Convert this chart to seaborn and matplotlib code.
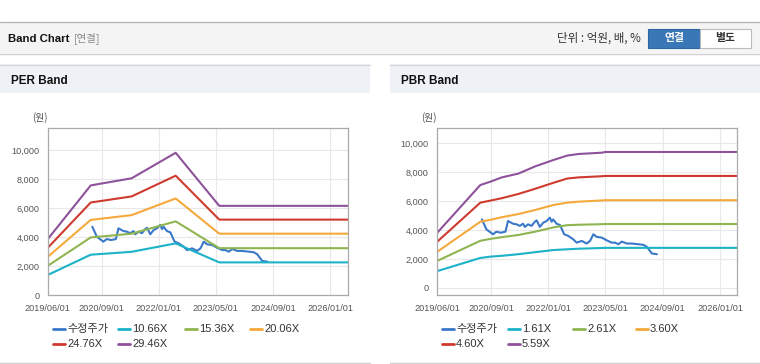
import pandas as pd
import matplotlib
matplotlib.use('Agg')
import matplotlib.pyplot as plt
import matplotlib.dates as mdates
from matplotlib.patches import Rectangle
from matplotlib.lines import Line2D
from matplotlib.ticker import FuncFormatter
import seaborn as sns

# adjusted close price (shared by both panels)
price_dates = ['2020-06-15', '2020-07-23', '2020-09-17', '2020-10-16', '2020-11-22', '2021-01-01',
               '2021-01-23', '2021-03-07', '2021-04-05', '2021-05-03', '2021-05-31', '2021-06-15',
               '2021-07-13', '2021-08-11', '2021-09-08', '2021-09-23', '2021-10-21', '2021-11-18',
               '2021-12-17', '2022-01-14', '2022-01-29', '2022-02-11', '2022-03-12', '2022-04-10',
               '2022-05-16', '2022-06-19', '2022-08-01', '2022-08-30', '2022-10-12', '2022-11-23',
               '2022-12-22', '2023-01-19', '2023-02-17', '2023-03-31', '2023-05-13', '2023-06-25',
               '2023-07-23', '2023-08-20', '2023-09-18', '2023-10-31', '2023-12-12', '2024-02-07',
               '2024-03-20', '2024-04-18', '2024-05-31', '2024-07-13']
price = [4730, 4040, 3700, 3880, 3810, 3880,
         4620, 4430, 4390, 4280, 4430, 4210,
         4390, 4280, 4570, 4660, 4210, 4500,
         4620, 4850, 4570, 4730, 4430, 4340,
         3700, 3590, 3350, 3120, 3240, 3060,
         3240, 3700, 3520, 3470, 3280, 3120,
         3120, 3010, 3190, 3060, 3060, 3010,
         2970, 2830, 2370, 2320]

per_dates = ['2019-06-01', '2020-06-01', '2021-05-15', '2022-05-25', '2023-05-31', '2026-06-01']
per_1066 = [1400, 2800, 3000, 3580, 2270, 2270]
per_1536 = [2030, 3990, 4250, 5100, 3250, 3250]
per_2006 = [2650, 5200, 5530, 6680, 4250, 4250]
per_2476 = [3270, 6400, 6820, 8250, 5220, 5220]
per_2946 = [3870, 7580, 8070, 9830, 6170, 6170]
per_labels = ['10.66X', '15.36X', '20.06X', '24.76X', '29.46X']

pbr_dates = ['2019-06-01', '2020-06-01', '2020-08-25', '2020-12-01', '2021-04-20', '2021-09-10',
             '2022-02-15', '2022-06-10', '2022-09-15', '2023-04-01', '2023-05-01', '2026-06-01']
pbr_161 = [1150, 2060, 2150, 2210, 2320, 2460, 2610, 2660, 2700, 2750, 2760, 2760]
pbr_261 = [1860, 3250, 3380, 3500, 3650, 3880, 4180, 4330, 4360, 4400, 4410, 4410]
pbr_360 = [2490, 4570, 4700, 4880, 5100, 5380, 5730, 5890, 5960, 6040, 6060, 6060]
pbr_460 = [3190, 5890, 6030, 6200, 6490, 6850, 7270, 7560, 7640, 7720, 7740, 7740]
pbr_559 = [3810, 7110, 7340, 7640, 7900, 8400, 8850, 9150, 9260, 9350, 9400, 9400]
pbr_labels = ['1.61X', '2.61X', '3.60X', '4.60X', '5.59X']

price_label = '수정주가'
x_ticks = ['2019-06-01', '2020-09-01', '2022-01-01', '2023-05-01', '2024-09-01', '2026-01-01']
colors = ['#3a78c9', '#1cb2c8', '#8fb550', '#f5a93c', '#cf3a2f', '#8e529b']

W, H = 760, 364
sns.set_style('white')
plt.rcParams['font.family'] = ['Liberation Sans', 'Noto Sans CJK KR', 'DejaVu Sans']
KR = ['Noto Sans CJK KR', 'DejaVu Sans']


def build(dates, bands, labels):
    parts = [pd.DataFrame({'date': pd.to_datetime(price_dates), 'value': price, 'series': price_label})]
    for lab, vals in zip(labels, bands):
        parts.append(pd.DataFrame({'date': pd.to_datetime(dates), 'value': vals, 'series': lab}))
    return pd.concat(parts, ignore_index=True)


def fx(px):
    return px / W


def fy(py):
    return 1 - py / H


fig = plt.figure(figsize=(W / 100, H / 100), dpi=100)

# top header bar
fig.patches.append(Rectangle((0, fy(53)), 1, 31 / H, transform=fig.transFigure,
                             facecolor='#f4f4f4', edgecolor='none', zorder=0))
fig.add_artist(Line2D([0, 1], [fy(22), fy(22)], transform=fig.transFigure, color='#b8b8b8', lw=1))
fig.add_artist(Line2D([0, 1], [fy(53.5), fy(53.5)], transform=fig.transFigure, color='#d0d0d0', lw=1))
fig.text(fx(8), fy(38.5), 'Band Chart', fontsize=8.2, fontweight='bold', color='#111111', va='center')
fig.text(fx(74), fy(38.5), '[연결]', fontsize=7.5, color='#888888', va='center', family=KR)
fig.text(fx(641), fy(38.5), '단위 : 억원, 배, %', fontsize=8.3, color='#333333', va='center', ha='right',
         family=KR)
fig.patches.append(Rectangle((fx(648), fy(47.5)), 52 / W, 18.5 / H, transform=fig.transFigure,
                             facecolor='#3977b7', edgecolor='#2e66a3', lw=0.8, zorder=1))
fig.patches.append(Rectangle((fx(700), fy(47.5)), 50.5 / W, 18.5 / H, transform=fig.transFigure,
                             facecolor='#ffffff', edgecolor='#bbbbbb', lw=0.8, zorder=1))
fig.text(fx(674), fy(38.5), '연결', fontsize=7.8, color='white', fontweight='bold', va='center', ha='center',
         family=KR)
fig.text(fx(725), fy(38.5), '별도', fontsize=7.8, color='#333333', fontweight='bold', va='center',
         ha='center', family=KR)

panels = [
    dict(x0=0, x1=370, title='PER Band', ax_left=47.7, ylim=(0, 11540), dates=per_dates,
         bands=[per_1066, per_1536, per_2006, per_2476, per_2946], labels=per_labels,
         leg_x=[53, 118, 185, 250]),
    dict(x0=390, x1=760, title='PBR Band', ax_left=437.3, ylim=(-526, 11060), dates=pbr_dates,
         bands=[pbr_161, pbr_261, pbr_360, pbr_460, pbr_559], labels=pbr_labels,
         leg_x=[442, 508, 573, 636]),
]

for p in panels:
    # panel header
    fig.patches.append(Rectangle((fx(p['x0']), fy(93)), (p['x1'] - p['x0']) / W, 29 / H,
                                 transform=fig.transFigure, facecolor='#eef2f7', edgecolor='none', zorder=0))
    fig.add_artist(Line2D([fx(p['x0']), fx(p['x1'])], [fy(64.5)] * 2, transform=fig.transFigure,
                          color='#d6d6d6', lw=1))
    fig.add_artist(Line2D([fx(p['x0']), fx(p['x1'])], [fy(363)] * 2, transform=fig.transFigure,
                          color='#d0d0d0', lw=1))
    fig.text(fx(p['x0'] + 11), fy(80.5), p['title'], fontsize=8.5, fontweight='bold', color='#111111',
             va='center')
    fig.text(fx(p['ax_left'] - 16), fy(118), '(원)', fontsize=7, color='#555555', va='center', family=KR)

    ax = fig.add_axes([fx(p['ax_left']), fy(295.3), 300 / W, 167.3 / H])
    df = build(p['dates'], p['bands'], p['labels'])
    sns.lineplot(data=df, x='date', y='value', hue='series', hue_order=[price_label] + p['labels'],
                 palette=colors, legend=False, ax=ax, linewidth=1.5, estimator=None)
    ax.set_xlim(pd.Timestamp('2019-06-01'), pd.Timestamp('2026-05-28'))
    ax.set_ylim(*p['ylim'])
    ax.set_xticks(pd.to_datetime(x_ticks))
    ax.xaxis.set_major_formatter(mdates.DateFormatter('%Y/%m/%d'))
    ax.set_yticks(range(0, 10001, 2000))
    ax.yaxis.set_major_formatter(FuncFormatter(lambda v, pos: f'{v:,.0f}'))
    ax.set_xlabel('')
    ax.set_ylabel('')
    ax.grid(True, color='#e8e8e8', lw=0.8)
    ax.set_axisbelow(True)
    for s in ax.spines.values():
        s.set_color('#aaaaaa')
        s.set_linewidth(0.9)
    ax.tick_params(axis='both', labelsize=6.6, colors='#555555', length=3, width=0.8, pad=3)
    ax.tick_params(axis='x', colors='#aaaaaa', labelcolor='#555555')
    ax.tick_params(axis='y', length=0, pad=6)

    # legend
    names = [price_label] + p['labels']
    pos = [(p['leg_x'][i % 4], 329 if i < 4 else 344) for i in range(len(names))]
    for (lx, ly), name, c in zip(pos, names, colors):
        fig.add_artist(Line2D([fx(lx), fx(lx + 12)], [fy(ly)] * 2, transform=fig.transFigure,
                              color=c, lw=2))
        fig.text(fx(lx + 14), fy(ly), name, fontsize=8, color='#333333', va='center')

fig.savefig('out.png', dpi=100, facecolor='white')
